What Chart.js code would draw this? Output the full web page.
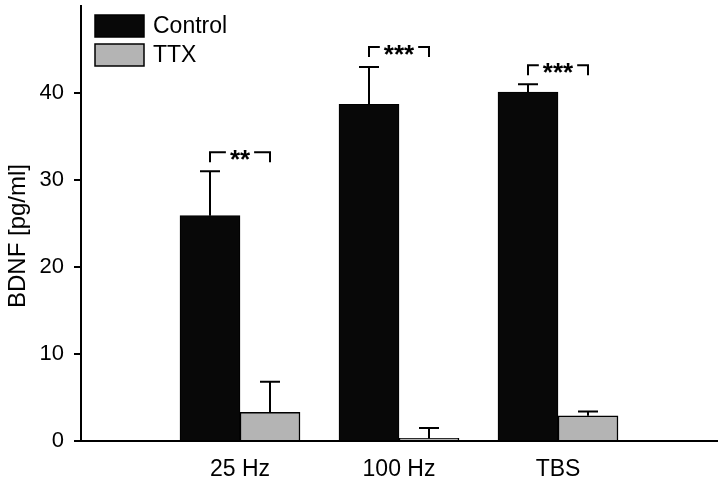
<!DOCTYPE html>
<html><head><meta charset="utf-8">
<script src="https://cdn.jsdelivr.net/npm/chart.js@4/dist/chart.umd.min.js"></script>
<style>html,body{margin:0;padding:0;background:#fff}#wrap{width:720px;height:483px;position:relative}</style>
</head><body><div id="wrap"><canvas id="c"></canvas></div>
<script>
const categories = ['25 Hz', '100 Hz', 'TBS'];
const controlMean = [25.9, 38.7, 40.1];
const controlErr  = [5.1, 4.3, 0.9];
const ttxMean     = [3.3, 0.3, 2.9];
const ttxErr      = [3.5, 1.2, 0.5];
const sigLabels   = ['**', '***', '***'];
const sigLevel    = [33.2, 45.3, 43.2];
const yTickValues = [0, 10, 20, 30, 40];
const yTitle      = 'BDNF [pg/ml]';

const FONT = '"Liberation Sans", Arial, Helvetica, sans-serif';

const errorBars = {
  id: 'errorBars',
  afterDatasetsDraw(chart) {
    const ctx = chart.ctx, ys = chart.scales.y;
    chart.data.datasets.forEach((ds, di) => {
      const meta = chart.getDatasetMeta(di);
      meta.data.forEach((bar, i) => {
        const top = ys.getPixelForValue(ds.data[i].y + ds.errors[i]);
        ctx.save();
        ctx.strokeStyle = '#000'; ctx.lineWidth = 2;
        ctx.beginPath();
        ctx.moveTo(bar.x, bar.y); ctx.lineTo(bar.x, top);
        ctx.moveTo(bar.x - 10, top); ctx.lineTo(bar.x + 10, top);
        ctx.stroke();
        ctx.restore();
      });
    });
  }
};

const brackets = {
  id: 'brackets',
  afterDatasetsDraw(chart) {
    const ctx = chart.ctx, ys = chart.scales.y;
    const m0 = chart.getDatasetMeta(0), m1 = chart.getDatasetMeta(1);
    sigLabels.forEach((lab, i) => {
      const x1 = m0.data[i].x, x2 = m1.data[i].x;
      const y = ys.getPixelForValue(sigLevel[i]);
      ctx.save();
      ctx.font = 'bold 26px ' + FONT;
      const w = ctx.measureText(lab).width;
      const cx = (x1 + x2) / 2;
      ctx.strokeStyle = '#000'; ctx.lineWidth = 2;
      ctx.beginPath();
      ctx.moveTo(x1, y + 10); ctx.lineTo(x1, y); ctx.lineTo(cx - w / 2 - 4, y);
      ctx.moveTo(cx + w / 2 + 4, y); ctx.lineTo(x2, y); ctx.lineTo(x2, y + 10);
      ctx.stroke();
      ctx.fillStyle = '#000'; ctx.textAlign = 'center'; ctx.textBaseline = 'alphabetic';
      ctx.fillText(lab, cx, y + 16);
      ctx.restore();
    });
  }
};

const boxLegend = {
  id: 'boxLegend',
  afterDraw(chart) {
    const ctx = chart.ctx, a = chart.chartArea;
    chart.data.datasets.forEach((ds, i) => {
      const x = a.left + 14, y = a.top + 9 + i * 29;
      ctx.save();
      ctx.fillStyle = ds.backgroundColor;
      ctx.fillRect(x, y, 49, 22);
      ctx.strokeStyle = '#000'; ctx.lineWidth = 1.5;
      ctx.strokeRect(x, y, 49, 22);
      ctx.fillStyle = '#000';
      ctx.font = '23px ' + FONT;
      ctx.textBaseline = 'middle'; ctx.textAlign = 'left';
      ctx.fillText(ds.label, x + 58, y + 12);
      ctx.restore();
    });
  }
};

const yTitlePlugin = {
  id: 'yTitlePlugin',
  afterDraw(chart) {
    const ctx = chart.ctx;
    ctx.save();
    ctx.translate(18, 236);
    ctx.rotate(-Math.PI / 2);
    ctx.fillStyle = '#000';
    ctx.font = '24px ' + FONT;
    ctx.textAlign = 'center'; ctx.textBaseline = 'middle';
    ctx.fillText(yTitle, 0, 0);
    ctx.restore();
  }
};

new Chart(document.getElementById('c'), {
  type: 'bar',
  data: {
    datasets: [
      { label: 'Control', data: categories.map((c, i) => ({ x: i + 1, y: controlMean[i] })),
        errors: controlErr, backgroundColor: '#080808', borderColor: '#000', borderWidth: 1 },
      { label: 'TTX', data: categories.map((c, i) => ({ x: i + 1, y: ttxMean[i] })),
        errors: ttxErr, backgroundColor: '#b4b4b4', borderColor: '#000', borderWidth: 1.5 }
    ]
  },
  options: {
    responsive: true, maintainAspectRatio: false, animation: false,
    layout: { padding: { top: 6, right: 3, left: 0, bottom: 0 } },
    datasets: { bar: { barThickness: 60, borderSkipped: 'bottom' } },
    plugins: { legend: { display: false }, tooltip: { enabled: false } },
    scales: {
      x: {
        type: 'linear', min: 0, max: 4, offset: false,
        ticks: { stepSize: 1, autoSkip: false, maxRotation: 0, color: '#000', padding: 15,
          font: { family: FONT, size: 23 },
          callback: v => categories[v - 1] || '' },
        grid: { display: false, drawTicks: false },
        border: { display: true, color: '#000', width: 2 },
        afterFit(s) { s.height = 42; s.paddingLeft = 0; s.paddingRight = 0; }
      },
      y: {
        min: 0, max: 50,
        afterBuildTicks(s) { s.ticks = yTickValues.map(v => ({ value: v })); },
        ticks: { color: '#000', padding: 10, font: { family: FONT, size: 22 } },
        grid: { display: true, drawOnChartArea: false, drawTicks: true, tickLength: 7, color: '#000', lineWidth: 2 },
        border: { display: true, color: '#000', width: 2 },
        title: { display: false },
        afterFit(s) { s.width = 81; s.paddingTop = 0; s.paddingBottom = 0; }
      }
    }
  },
  plugins: [errorBars, brackets, boxLegend, yTitlePlugin]
});
</script>
</body></html>
